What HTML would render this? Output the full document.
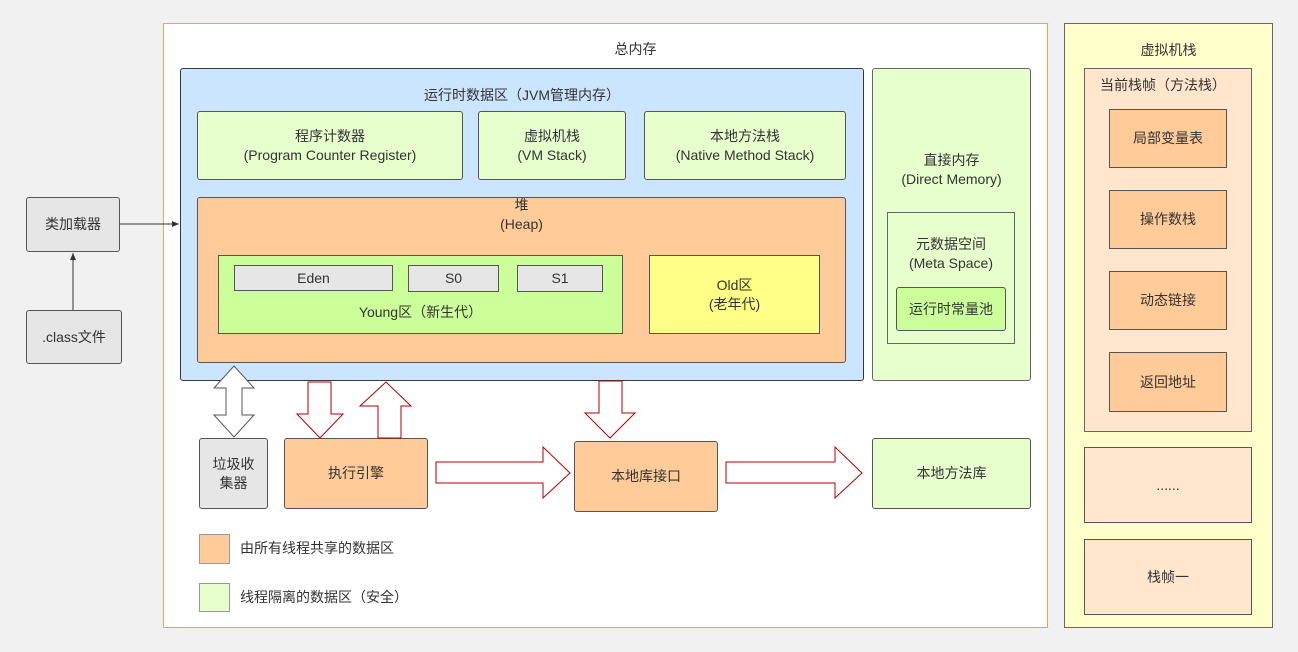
<!DOCTYPE html>
<html><head><meta charset="utf-8"><style>
body{margin:0;width:1298px;height:652px;background:#f1f1f1;font-family:"Liberation Sans","Noto Sans CJK SC",sans-serif;font-size:14px;color:#333;position:relative;overflow:hidden}
.b{position:absolute;box-sizing:border-box;display:flex;align-items:center;justify-content:center;text-align:center;line-height:19px;border:1px solid #555;border-radius:3px}
.t{position:absolute;text-align:center;line-height:19px}
svg{position:absolute;left:0;top:0}
</style></head><body>
<div style="position:absolute;left:163px;top:23px;width:883px;height:603px;background:#fff;border:1px solid #f5a055"></div>
<div class="t" style="left:163px;width:945px;top:40px">总内存</div>
<div class="b" style="left:180px;top:68px;width:684px;height:313px;background:#cce5ff;border-color:#36393d"></div>
<div class="t" style="left:180px;width:684px;top:86px">运行时数据区（JVM管理内存）</div>
<div class="b" style="left:197px;top:111px;width:266px;height:69px;background:#e6ffcc">程序计数器<br>(Program Counter Register)</div>
<div class="b" style="left:478px;top:111px;width:148px;height:69px;background:#e6ffcc">虚拟机栈<br>(VM Stack)</div>
<div class="b" style="left:644px;top:111px;width:202px;height:69px;background:#e6ffcc">本地方法栈<br>(Native Method Stack)</div>
<div class="b" style="left:197px;top:197px;width:649px;height:166px;background:#ffcc99"></div>
<div class="t" style="left:197px;width:649px;top:196px">堆<br>(Heap)</div>
<div class="b" style="left:218px;top:255px;width:405px;height:79px;background:#ccff99;border-radius:0"></div>
<div class="t" style="left:218px;width:405px;top:303px">Young区（新生代）</div>
<div class="b" style="left:234px;top:265px;width:159px;height:26px;background:#e6e6e6;border-radius:0">Eden</div>
<div class="b" style="left:408px;top:265px;width:91px;height:27px;background:#e6e6e6;border-radius:0">S0</div>
<div class="b" style="left:517px;top:265px;width:86px;height:27px;background:#e6e6e6;border-radius:0">S1</div>
<div class="b" style="left:649px;top:255px;width:171px;height:79px;background:#ffff88;border-radius:0">Old区<br>(老年代)</div>
<div class="b" style="left:872px;top:68px;width:159px;height:313px;background:#e6ffcc;border-color:#666"></div>
<div class="t" style="left:872px;width:159px;top:151px">直接内存<br>(Direct Memory)</div>
<div class="b" style="left:887px;top:212px;width:128px;height:132px;background:#e6ffcc;border-radius:0;border-color:#666"></div>
<div class="t" style="left:887px;width:128px;top:235px">元数据空间<br>(Meta Space)</div>
<div class="b" style="left:896px;top:287px;width:110px;height:44px;background:#ccff99">运行时常量池</div>
<div class="b" style="left:1064px;top:23px;width:209px;height:605px;background:#ffffcc;border-color:#666;border-radius:0"></div>
<div class="t" style="left:1064px;width:209px;top:41px">虚拟机栈</div>
<div class="b" style="left:1084px;top:68px;width:168px;height:364px;background:#ffe6cc;border-color:#666;border-radius:0"></div>
<div class="t" style="left:1084px;width:158px;top:76px">当前栈帧（方法栈）</div>
<div class="b" style="left:1109px;top:109px;width:118px;height:59px;background:#ffcc99;border-radius:0">局部变量表</div>
<div class="b" style="left:1109px;top:190px;width:118px;height:59px;background:#ffcc99;border-radius:0">操作数栈</div>
<div class="b" style="left:1109px;top:271px;width:118px;height:59px;background:#ffcc99;border-radius:0">动态链接</div>
<div class="b" style="left:1109px;top:352px;width:118px;height:60px;background:#ffcc99;border-radius:0">返回地址</div>
<div class="b" style="left:1084px;top:447px;width:168px;height:76px;background:#ffe6cc;border-radius:0">......</div>
<div class="b" style="left:1084px;top:539px;width:168px;height:76px;background:#ffe6cc;border-radius:0">栈帧一</div>
<div class="b" style="left:26px;top:197px;width:94px;height:55px;background:#e6e6e6">类加载器</div>
<div class="b" style="left:26px;top:310px;width:96px;height:54px;background:#e6e6e6">.class文件</div>
<div class="b" style="left:199px;top:438px;width:69px;height:71px;background:#e6e6e6">垃圾收<br>集器</div>
<div class="b" style="left:284px;top:438px;width:144px;height:71px;background:#ffcc99">执行引擎</div>
<div class="b" style="left:574px;top:441px;width:144px;height:71px;background:#ffcc99">本地库接口</div>
<div class="b" style="left:872px;top:438px;width:159px;height:71px;background:#e6ffcc">本地方法库</div>
<div class="b" style="left:199px;top:534px;width:31px;height:30px;background:#ffcc99;border-radius:0;border-color:#999"></div>
<div class="t" style="left:240px;top:539px">由所有线程共享的数据区</div>
<div class="b" style="left:199px;top:583px;width:31px;height:29px;background:#e6ffcc;border-radius:0;border-color:#999"></div>
<div class="t" style="left:240px;top:588px">线程隔离的数据区（安全）</div>
<svg width="1298" height="652">
<defs><marker id="m" markerWidth="8" markerHeight="8" refX="7" refY="4" orient="auto"><path d="M0,1L7,4L0,7z" fill="#333"/></marker></defs>
<line x1="73" y1="310" x2="73" y2="253" stroke="#333" marker-end="url(#m)"/>
<line x1="120" y1="224" x2="179" y2="224" stroke="#333" marker-end="url(#m)"/>
<path d="M234,366L254,388H242V415H254L234,437L214,415H226V388H214Z" fill="#fff" stroke="#555"/>
<g fill="#fff" stroke="#b20000">
<path d="M308,382H331V414H343L320,438L297,414H308Z"/>
<path d="M378,438H401V406H411L386,382L360,406H378Z"/>
<path d="M599,381H622V413H635L610,438L585,413H599Z"/>
<path d="M436,462H543V447L570,473L543,498V483H436Z"/>
<path d="M726,462H835V447L862,473L835,498V483H726Z"/>
</g>
</svg>
</body></html>
